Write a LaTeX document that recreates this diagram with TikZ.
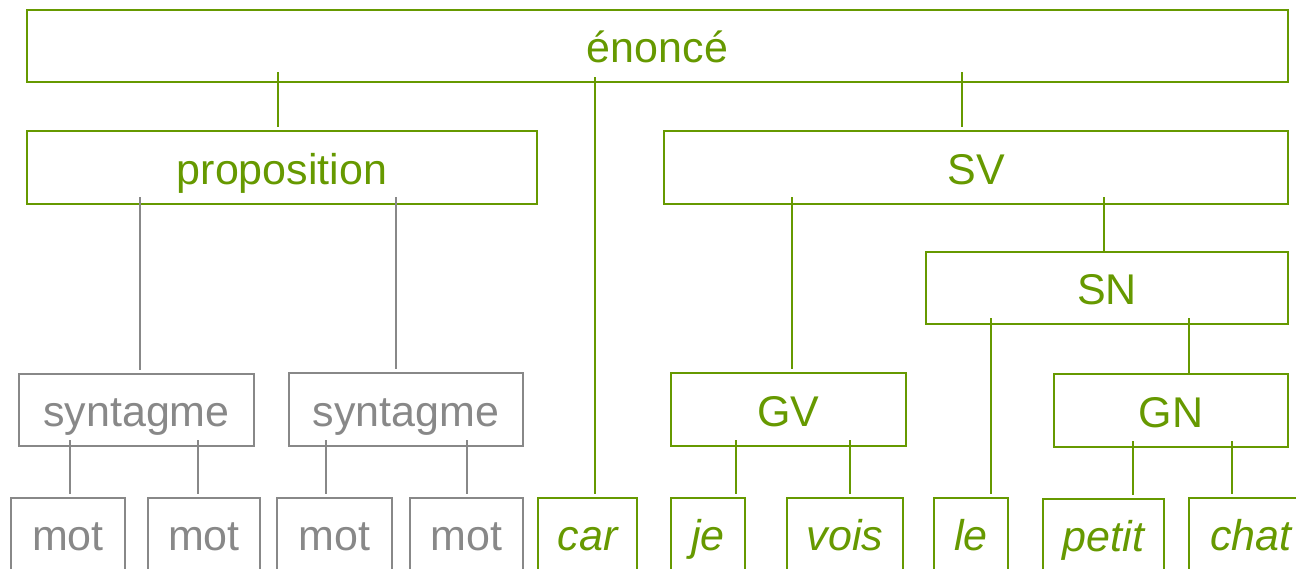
\documentclass[tikz,border=0pt]{standalone}
\usepackage{fontspec}
\setmainfont{Liberation Sans}
\usetikzlibrary{calc}
\definecolor{lgreen}{RGB}{102,153,0}
\definecolor{lgrey}{RGB}{136,136,136}
\newcommand{\treelink}[5]{\draw[#1] ($(#3.north |- #2.south)+(#4,-#5)$) -- ($(#3.north)+(#4,-4)$);}
\tikzset{
  base/.style={draw, rectangle, inner sep=0pt, outer sep=0pt, line width=1.6pt,
    font=\fontsize{43}{50}\selectfont, text height=38pt, text depth=5pt},
  gbox/.style={base, draw=lgreen, text=lgreen},
  ybox/.style={base, draw=lgrey, text=lgrey},
  gline/.style={draw=lgreen, line width=1.6pt},
  yline/.style={draw=lgrey, line width=1.6pt}
}
\begin{document}
\begin{tikzpicture}[x=1pt,y=-1pt]
\useasboundingbox (0,0) rectangle (1296,568);
\clip (0,0) rectangle (1296,568);
% level 0
\node[gbox, minimum width=1261pt, minimum height=72pt] (enonce) at (657.5,46) {énoncé};
% level 1
\node[gbox, minimum width=510pt, minimum height=73pt] (prop) at (282,167.5) {proposition};
\node[gbox, minimum width=624pt, minimum height=73pt] (SV) at (976,167.5) {SV};
% level 2
\node[gbox, minimum width=362pt, minimum height=72pt] (SN) at (1107,288) {SN};
% level 3
\node[ybox, minimum width=235pt, minimum height=72pt] (syn1) at (136.5,410) {syntagme};
\node[ybox, minimum width=234pt, minimum height=73pt] (syn2) at (406,409.5) {syntagme};
\node[gbox, minimum width=235pt, minimum height=73pt] (GV) at (788.5,409.5) {GV};
\node[gbox, minimum width=234pt, minimum height=73pt] (GN) at (1171,410.5) {GN};
% level 4
\node[ybox, minimum width=114pt, minimum height=72pt] (mot1) at (68,534) {mot};
\node[ybox, minimum width=112pt, minimum height=72pt] (mot2) at (204,534) {mot};
\node[ybox, minimum width=115pt, minimum height=72pt] (mot3) at (334.5,534) {mot};
\node[ybox, minimum width=113pt, minimum height=72pt] (mot4) at (466.5,534) {mot};
\node[gbox, minimum width=99pt, minimum height=72pt] (car) at (587.5,534) {\itshape car};
\node[gbox, minimum width=74pt, minimum height=72pt] (je) at (708,534) {\itshape je};
\node[gbox, minimum width=116pt, minimum height=72pt] (vois) at (845,534) {\itshape vois};
\node[gbox, minimum width=74pt, minimum height=72pt] (le) at (971,534) {\itshape le};
\node[gbox, minimum width=121pt, minimum height=72pt] (petit) at (1103.5,535) {\itshape petit};
\node[gbox, minimum width=124pt, minimum height=72pt] (chat) at (1251,534) {\itshape chat};
% connectors
\treelink{gline}{enonce}{prop}{-4}{10}
\treelink{gline}{enonce}{car}{7.5}{5}
\treelink{gline}{enonce}{SV}{-14}{10}
\treelink{yline}{prop}{syn1}{3.5}{7}
\treelink{yline}{prop}{syn2}{-10}{7}
\treelink{yline}{syn1}{mot1}{2}{6}
\treelink{yline}{syn1}{mot2}{-6}{6}
\treelink{yline}{syn2}{mot3}{-8.5}{6}
\treelink{yline}{syn2}{mot4}{0.5}{6}
\treelink{gline}{SV}{GV}{3.5}{7}
\draw[gline] ($(SN.north |- SV.south)+(-3,-7)$) -- ($(SN.north)+(-3,0)$);
\treelink{gline}{SN}{le}{20}{6}
\draw[gline] ($(GN.north |- SN.south)+(18,-6)$) -- ($(GN.north)+(18,0)$);
\treelink{gline}{GV}{je}{28}{6}
\treelink{gline}{GV}{vois}{5}{6}
\treelink{gline}{GN}{petit}{29.5}{6}
\treelink{gline}{GN}{chat}{-19}{6}
\end{tikzpicture}
\end{document}
